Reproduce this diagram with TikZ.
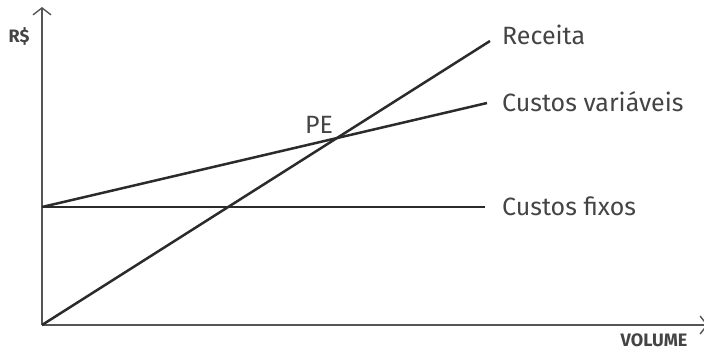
\documentclass[tikz,border=0pt]{standalone}
\usepackage{fontspec}
\setmainfont{Fira Sans}
\usetikzlibrary{arrows.meta}
\definecolor{linec}{HTML}{2B2B2B}
\definecolor{axisc}{HTML}{555555}
\definecolor{textc}{HTML}{444444}
\begin{document}
\begin{tikzpicture}[x=1pt,y=-1pt,
  axis/.style={draw=axisc,line width=1.8pt,-{Straight Barb[length=7pt,width=18pt,line width=1.4pt]}},
  dataline/.style={draw=linec,line width=2.5pt},
  lbl/.style={text=textc,font=\fontsize{25}{25}\selectfont,anchor=west,inner sep=0pt},
  axlbl/.style={text=textc,font=\fontsize{18}{18}\selectfont\bfseries,inner sep=0pt}]
\useasboundingbox (0,0) rectangle (704,351);
\coordinate (O) at (42,325);
\coordinate (ytop) at (42,7);
\coordinate (xend) at (708,325);
\coordinate (F) at (42,207);
\coordinate (recEnd) at (490,41);
\coordinate (cvEnd) at (487,103);
\coordinate (cfEnd) at (485,207);
\draw[axis] (O) -- (ytop);
\draw[axis] (O) -- (xend);
\draw[dataline] (O) -- (recEnd);
\draw[dataline] (F) -- (cvEnd);
\draw[dataline] (F) -- (cfEnd);
\node[lbl] (rec) at (502,35) {Receita};
\node[lbl] (cv) at (502,102) {Custos variáveis};
\node[lbl] (cf) at (502,206) {Custos fixos};
\node[text=textc,font=\fontsize{25}{25}\selectfont,inner sep=0pt] (pe) at (319,125) {PE};
\node[axlbl] (rs) at (19,36) {R\$};
\node[axlbl] (vol) at (654,340) {VOLUME};
\end{tikzpicture}
\end{document}
